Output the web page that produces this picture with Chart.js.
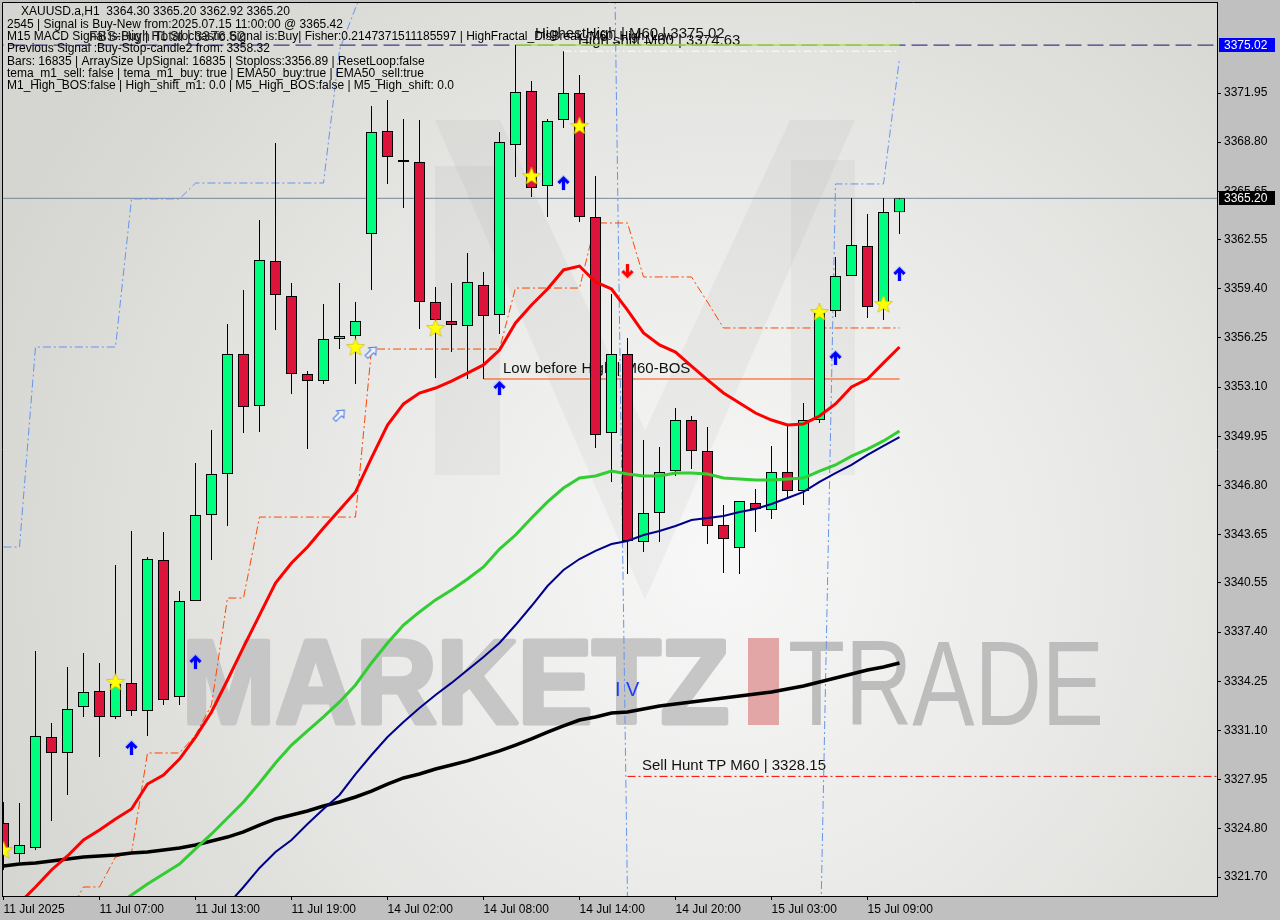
<!DOCTYPE html>
<html>
<head>
<meta charset="utf-8">
<script src="https://cdn.jsdelivr.net/npm/chart.js@4.4.1/dist/chart.umd.min.js"></script>
<style>
  html, body { margin: 0; padding: 0; background: #c0c0c0; }
  canvas { display: block; }
</style>
</head>
<body>
<canvas id="chart" width="1280" height="920"></canvas>
<script>
// XAUUSD.a H1, 11 Jul 2025 01:00 .. 15 Jul 2025 11:00 (57 candles, index 0..56)
const opens = [
  3325.16, 3323.18, 3323.56, 3330.67, 3329.65, 3332.60, 3333.62, 3331.96, 3334.14, 3332.34,
  3342.02, 3333.24, 3339.39, 3344.90, 3347.53, 3355.22, 3351.89, 3361.18, 3358.94, 3353.94,
  3353.49, 3356.18, 3356.38, 3362.91, 3369.51, 3367.66, 3367.53, 3358.55, 3357.34, 3357.02,
  3359.64, 3357.72, 3368.62, 3372.08, 3365.99, 3370.22, 3371.95, 3364.00, 3350.16, 3355.22,
  3343.17, 3345.03, 3347.72, 3350.99, 3349.00, 3344.26, 3342.79, 3345.67, 3345.22, 3347.66,
  3346.44, 3350.99, 3357.98, 3360.22, 3362.14, 3358.43, 3364.30];
const highs = [
  3326.51, 3326.44, 3336.19, 3331.57, 3335.16, 3336.06, 3335.42, 3341.70, 3343.88, 3342.21,
  3343.81, 3340.03, 3348.24, 3350.35, 3357.15, 3359.32, 3363.81, 3368.75, 3359.77, 3354.13,
  3358.43, 3359.77, 3358.55, 3371.12, 3371.50, 3370.28, 3370.22, 3359.52, 3359.77, 3361.70,
  3360.48, 3369.45, 3375.02, 3372.72, 3370.28, 3374.63, 3373.10, 3366.63, 3359.07, 3356.25,
  3349.71, 3349.26, 3351.76, 3351.25, 3350.54, 3345.54, 3345.80, 3346.57, 3349.33, 3350.67,
  3352.08, 3358.36, 3361.44, 3365.22, 3364.20, 3365.22, 3365.20];
const lows = [
  3322.15, 3322.66, 3323.43, 3325.29, 3326.96, 3331.96, 3329.39, 3331.83, 3332.02, 3330.74,
  3332.73, 3332.73, 3339.39, 3342.02, 3344.20, 3350.16, 3350.22, 3356.76, 3352.66, 3349.13,
  3353.30, 3355.54, 3353.30, 3359.32, 3366.12, 3364.58, 3356.82, 3353.68, 3355.35, 3353.62,
  3353.62, 3356.50, 3366.57, 3365.28, 3364.00, 3369.71, 3363.68, 3349.20, 3347.02, 3341.12,
  3342.53, 3343.17, 3347.40, 3347.85, 3343.04, 3341.19, 3341.12, 3343.81, 3344.65, 3345.99,
  3345.54, 3350.80, 3357.59, 3360.22, 3357.53, 3357.40, 3362.92];
const closes = [
  3323.56, 3323.75, 3330.74, 3329.65, 3332.47, 3333.56, 3331.96, 3334.07, 3332.34, 3342.08,
  3333.05, 3339.39, 3344.90, 3347.53, 3355.22, 3351.82, 3361.25, 3359.00, 3353.94, 3353.49,
  3356.18, 3356.38, 3357.34, 3369.45, 3367.85, 3367.53, 3358.55, 3357.40, 3357.08, 3359.84,
  3357.66, 3368.81, 3372.01, 3365.86, 3370.16, 3371.95, 3364.00, 3350.03, 3355.22, 3343.24,
  3345.03, 3347.66, 3350.99, 3349.00, 3344.20, 3343.36, 3345.80, 3345.29, 3347.66, 3346.44,
  3350.99, 3357.85, 3360.22, 3362.21, 3358.23, 3364.32, 3365.20];

// moving averages
const redMA = [
  3319.07, 3320.03, 3321.06, 3322.15, 3323.05, 3324.07, 3324.71, 3325.42, 3326.06, 3327.66,
  3328.24, 3329.26, 3330.67, 3332.28, 3334.33, 3336.44, 3338.49, 3340.54, 3341.83, 3342.85,
  3344.07, 3345.22, 3346.38, 3348.56, 3350.67, 3352.02, 3352.72, 3353.04, 3353.49, 3354.00,
  3354.52, 3355.48, 3357.21, 3358.36, 3359.39, 3360.61, 3360.86, 3359.84, 3359.39, 3358.04,
  3356.57, 3355.80, 3355.35, 3354.45, 3353.56, 3352.72, 3352.08, 3351.44, 3350.99, 3350.67,
  3350.74, 3351.25, 3352.02, 3353.11, 3353.62, 3354.65, 3355.67];
const greenMA = [null, null, null, null, null, null, null,
  3319.84, 3320.55, 3321.25, 3321.89, 3322.53, 3323.50, 3324.46, 3325.48, 3326.51, 3327.73,
  3329.01, 3330.16, 3331.06, 3331.96, 3332.92, 3334.01, 3335.42, 3336.70, 3337.85, 3338.69,
  3339.46, 3340.10, 3340.80, 3341.57, 3342.72, 3343.62, 3344.71, 3345.74, 3346.63, 3347.27,
  3347.40, 3347.72, 3347.53, 3347.40, 3347.40, 3347.59, 3347.59, 3347.53, 3347.27, 3347.21,
  3347.15, 3347.15, 3347.21, 3347.27, 3347.72, 3348.11, 3348.68, 3349.13, 3349.65, 3350.29];
const navyMA = [null, null, null, null, null, null, null, null, null, null, null, null, null, null,
  3319.91, 3321.06, 3322.28, 3323.30, 3324.07, 3325.10, 3326.06, 3326.96, 3328.30, 3329.52,
  3330.67, 3331.64, 3332.53, 3333.37, 3334.14, 3334.97, 3335.80, 3336.70, 3337.85, 3339.07,
  3340.35, 3341.38, 3342.08, 3342.60, 3343.04, 3343.24, 3343.62, 3343.88, 3344.20, 3344.58,
  3344.71, 3344.84, 3345.10, 3345.29, 3345.61, 3345.99, 3346.38, 3347.02, 3347.59, 3348.11,
  3348.75, 3349.33, 3349.90];
const blackMA = [
  3322.41, 3322.53, 3322.60, 3322.73, 3322.85, 3322.98, 3323.05, 3323.11, 3323.24, 3323.30,
  3323.43, 3323.56, 3323.75, 3324.01, 3324.26, 3324.59, 3325.03, 3325.42, 3325.67, 3325.93,
  3326.25, 3326.51, 3326.83, 3327.21, 3327.66, 3328.05, 3328.30, 3328.62, 3328.88, 3329.14,
  3329.46, 3329.78, 3330.16, 3330.55, 3330.99, 3331.38, 3331.76, 3331.96, 3332.21, 3332.28,
  3332.47, 3332.66, 3332.79, 3332.92, 3333.05, 3333.17, 3333.30, 3333.43, 3333.56, 3333.75,
  3333.94, 3334.20, 3334.46, 3334.71, 3334.97, 3335.16, 3335.42];

// stepped trailing lines
const orangeStop = [null, null, null, null,
  3319.20, 3321.06, 3321.06, 3322.98, 3323.24, 3329.65, 3329.65, 3329.65, 3330.80, 3332.73,
  3339.58, 3339.58, 3344.77, 3344.77, 3344.77, 3344.77, 3344.77, 3344.77, 3344.77,
  3355.54, 3355.54, 3355.54, 3355.54, 3355.54, 3355.54, 3355.54, 3355.54, 3355.54,
  3359.45, 3359.45, 3359.45, 3359.45, 3359.45, 3363.62, 3363.62, 3363.62,
  3360.16, 3360.16, 3360.16, 3360.16, 3358.55,
  3356.89, 3356.89, 3356.89, 3356.89, 3356.89, 3356.89, 3356.89, 3356.89, 3356.89, 3356.89, 3356.89, 3356.89];
const blueShift = [3342.85, 3342.85,
  3355.67, 3355.67, 3355.67, 3355.67, 3355.67, 3355.67,
  3365.16, 3365.16, 3365.16, 3365.16,
  3366.18, 3366.18, 3366.18, 3366.18, 3366.18, 3366.18, 3366.18, 3366.18, 3366.18,
  3374.71, 3377.40, 3379.83,
  null, null, null, null, null, null, null, null, null, null, null, null, null, null,
  3394.58, 3320.23,
  null, null, null, null, null, null, null, null, null, null, null,
  3314.78, 3366.12, 3366.12, 3366.12, 3366.12, 3374.19];

// signal markers
const starIdx = [0, 7, 22, 27, 33, 36, 51, 55];
const starPrice = [3323.43, 3334.20, 3355.67, 3356.89, 3366.63, 3369.84, 3357.91, 3358.43];
const upIdx = [8, 12, 31, 35, 52, 56];
const upPrice = [3329.97, 3335.48, 3353.04, 3366.18, 3354.97, 3360.35];
const downIdx = [39];
const downPrice = [3360.54];
const hollowIdx = [21, 23];
const hollowPrice = [3351.31, 3355.35];

// levels
const highestHigh = 3375.02;
const highShift = 3374.63;
const lowBeforeHigh = 3353.62;
const sellHuntTP = 3328.15;
const bidPrice = 3365.20;

// axes
const xTickIdx = [0, 6, 12, 18, 24, 30, 36, 42, 48, 54];
const xTickLabels = ['11 Jul 2025', '11 Jul 07:00', '11 Jul 13:00', '11 Jul 19:00', '14 Jul 02:00',
  '14 Jul 08:00', '14 Jul 14:00', '14 Jul 20:00', '15 Jul 03:00', '15 Jul 09:00'];
const yTickLabels = ['3321.70', '3324.80', '3327.95', '3331.10', '3334.25', '3337.40', '3340.55',
  '3343.65', '3346.80', '3349.95', '3353.10', '3356.25', '3359.40', '3362.55', '3365.65',
  '3368.80', '3371.95'];
const yTickValues = yTickLabels.map(Number);
const xMin = -0.09375, xMax = 75.84375;
const yMin = 3320.483, yMax = 3377.783;

const infoLines = [
  'XAUUSD.a,H1  3364.30 3365.20 3362.92 3365.20',
  '2545 | Signal is Buy-New from:2025.07.15 11:00:00 @ 3365.42',
  'M15 MACD Signal is:Buy | H1 Stochastic Signal is:Buy| Fisher:0.2147371511185597 | HighFractal_DisBreak_M60_High_Low',
  'Previous Signal :Buy-Stop-candle2 from: 3358.32',
  'Bars: 16835 | ArraySize UpSignal: 16835 | Stoploss:3356.89 | ResetLoop:false',
  'tema_m1_sell: false | tema_m1_buy: true | EMA50_buy:true | EMA50_sell:true',
  'M1_High_BOS:false | High_shift_m1: 0.0 | M5_High_BOS:false | M5_High_shift: 0.0'
];

const BULL = '#00ff7f';
const BEAR = '#dc143c';
const FONT = '"Liberation Sans", Arial, sans-serif';

function series(arr) {
  return arr.map((v, k) => ({ x: k, y: v }));
}
function marks(idx, prices) {
  return idx.map((k, i) => ({ x: k, y: prices[i] }));
}
function level(from, to, price) {
  return [{ x: from, y: price }, { x: to, y: price }];
}

// point images
function makeStar() {
  const c = document.createElement('canvas');
  c.width = 20; c.height = 20;
  const g = c.getContext('2d');
  g.beginPath();
  for (let i = 0; i < 10; i++) {
    const r = i % 2 ? 4 : 9.5;
    const a = -Math.PI / 2 + i * Math.PI / 5;
    g.lineTo(10 + r * Math.cos(a), 10.5 + r * Math.sin(a));
  }
  g.closePath();
  g.fillStyle = '#ffff00';
  g.fill();
  g.strokeStyle = 'rgba(200,170,0,0.7)';
  g.lineWidth = 0.8;
  g.stroke();
  return c;
}
function makeArrow(color, halo, down) {
  const c = document.createElement('canvas');
  c.width = 13; c.height = 16;
  const g = c.getContext('2d');
  if (down) { g.translate(0, 16); g.scale(1, -1); }
  [[5, halo], [3, color]].forEach(([w, col]) => {
    g.strokeStyle = col;
    g.lineWidth = w;
    g.lineJoin = 'miter';
    g.beginPath(); g.moveTo(6.5, 15); g.lineTo(6.5, 3.5); g.stroke();
    g.beginPath(); g.moveTo(1.5, 8); g.lineTo(6.5, 3); g.lineTo(11.5, 8); g.stroke();
  });
  return c;
}
function makeHollow() {
  const c = document.createElement('canvas');
  c.width = 16; c.height = 16;
  const g = c.getContext('2d');
  g.translate(8, 8);
  g.rotate(Math.PI / 4);
  g.beginPath();
  g.moveTo(0, -7); g.lineTo(5, -1); g.lineTo(2, -1); g.lineTo(2, 7);
  g.lineTo(-2, 7); g.lineTo(-2, -1); g.lineTo(-5, -1); g.closePath();
  g.fillStyle = 'rgba(240,244,255,0.9)';
  g.fill();
  g.strokeStyle = '#4a78e0';
  g.lineWidth = 1;
  g.stroke();
  return c;
}

const starImg = makeStar();
const upImg = makeArrow('#0000ff', 'rgba(120,150,255,0.45)', false);
const downImg = makeArrow('#ff0000', 'rgba(255,140,140,0.45)', true);
const hollowImg = makeHollow();

function fitText(ctx, txt, font, x0, x1, baseline, color, stroke) {
  ctx.font = font;
  const w = ctx.measureText(txt).width;
  ctx.save();
  ctx.translate(x0, baseline);
  ctx.scale((x1 - x0) / w, 1);
  ctx.fillStyle = color;
  ctx.textAlign = 'left';
  ctx.textBaseline = 'alphabetic';
  if (stroke) {
    ctx.strokeStyle = color;
    ctx.lineWidth = stroke;
    ctx.lineJoin = 'round';
    ctx.strokeText(txt, 0, 0);
  }
  ctx.fillText(txt, 0, 0);
  ctx.restore();
}

const mt4Plugin = {
  id: 'mt4',
  beforeDraw(chart) {
    const { ctx, chartArea: a } = chart;
    ctx.save();
    ctx.fillStyle = '#c0c0c0';
    ctx.fillRect(0, 0, chart.width, chart.height);
    const g = ctx.createRadialGradient(720, 560, 20, 720, 560, 780);
    g.addColorStop(0, '#f7f7f7');
    g.addColorStop(0.5, '#e8e8e6');
    g.addColorStop(1, '#d5d5d1');
    ctx.fillStyle = g;
    ctx.fillRect(a.left, a.top, a.right - a.left, a.bottom - a.top);
    ctx.beginPath();
    ctx.rect(a.left, a.top, a.right - a.left, a.bottom - a.top);
    ctx.clip();

    // faint "M" logo
    ctx.fillStyle = 'rgba(0,0,0,0.035)';
    ctx.fillRect(435, 166, 65, 309);
    ctx.fillRect(791, 160, 64, 315);
    ctx.beginPath();
    ctx.moveTo(435, 120); ctx.lineTo(500, 120); ctx.lineTo(645, 430);
    ctx.lineTo(790, 120); ctx.lineTo(855, 120); ctx.lineTo(645, 600);
    ctx.closePath();
    ctx.fill();

    // MARKETZ | TRADE watermark
    fitText(ctx, 'MARKETZ', 'bold 118px ' + FONT, 182, 729, 723, '#c6c6c6', 5);
    ctx.fillStyle = '#e2a6a6';
    ctx.fillRect(748, 638, 31, 87);
    fitText(ctx, 'TRADE', '120px ' + FONT, 788, 1104, 725, '#bdbdbd');
    ctx.restore();
  },
  beforeDatasetsDraw(chart) {
    const { ctx } = chart;
    ctx.save();
    ctx.textAlign = 'left';
    ctx.textBaseline = 'alphabetic';
    ctx.fillStyle = '#111';
    ctx.font = '15px ' + FONT;
    ctx.fillText('Low before High | M60-BOS', 503, 373);
    ctx.fillText('Sell Hunt TP M60 | 3328.15', 642, 770);
    ctx.fillText('HighestHigh | M60 | 3375.02', 535, 38);
    ctx.fillText('High shift M60 | 3374.63', 578, 45);
    ctx.fillStyle = '#1e3cff';
    ctx.font = '20px ' + FONT;
    ctx.fillText('I V', 615, 696);
    ctx.restore();
  },
  afterDraw(chart) {
    const { ctx, chartArea: a, scales: { y } } = chart;
    ctx.save();
    // frame
    ctx.strokeStyle = '#000';
    ctx.lineWidth = 1;
    ctx.beginPath();
    ctx.moveTo(a.left + 0.5, a.bottom); ctx.lineTo(a.left + 0.5, a.top + 0.5); ctx.lineTo(a.right, a.top + 0.5);
    ctx.stroke();

    // info comment block
    ctx.fillStyle = '#000';
    ctx.font = '12px ' + FONT;
    ctx.textBaseline = 'middle';
    ctx.textAlign = 'left';
    infoLines.forEach((t, i) => ctx.fillText(t, i === 0 ? 21 : 7, 12 + i * 12.3));
    ctx.font = '14px ' + FONT;
    ctx.fillStyle = '#222';
    ctx.fillText('FBS-High Total | 3376.62', 89, 37);

    // price boxes on the axis
    const box = (price, bg) => {
      const py = Math.round(y.getPixelForValue(price));
      ctx.fillStyle = bg;
      ctx.fillRect(1219, py - 7, 56, 14);
      ctx.fillStyle = '#fff';
      ctx.font = '12px ' + FONT;
      ctx.textBaseline = 'middle';
      ctx.fillText(price.toFixed(2), 1224, py + 0.5);
    };
    box(highestHigh, '#0000ff');
    box(bidPrice, '#000000');
    ctx.restore();
  }
};

const lineBase = { type: 'line', pointRadius: 0, tension: 0, clip: 0, fill: false };
const dashDot = [8, 3, 2, 3];

const datasets = [
  // markers
  { type: 'line', data: marks(starIdx, starPrice), showLine: false, pointStyle: starImg, pointRadius: 6, order: 0, clip: 0 },
  { type: 'line', data: marks(upIdx, upPrice), showLine: false, pointStyle: upImg, pointRadius: 6, order: 0, clip: 0 },
  { type: 'line', data: marks(downIdx, downPrice), showLine: false, pointStyle: downImg, pointRadius: 6, order: 0, clip: 0 },
  { type: 'line', data: marks(hollowIdx, hollowPrice), showLine: false, pointStyle: hollowImg, pointRadius: 6, order: 0, clip: 0 },
  // moving averages
  { ...lineBase, data: series(redMA), borderColor: '#ff0000', borderWidth: 3, order: 1 },
  { ...lineBase, data: series(greenMA), borderColor: '#32cd32', borderWidth: 3, order: 2 },
  { ...lineBase, data: series(navyMA), borderColor: '#00008b', borderWidth: 2, order: 3 },
  { ...lineBase, data: series(blackMA), borderColor: '#000000', borderWidth: 3.5, order: 4 },
  // candle bodies and wicks
  {
    type: 'bar', order: 5, clip: 0, grouped: false, maxBarThickness: 11,
    data: opens.map((o, k) => ({ x: k, y: [o, closes[k]] })),
    backgroundColor: closes.map((c, k) => (c >= opens[k] ? BULL : BEAR)),
    borderColor: '#000', borderWidth: 1, borderSkipped: false, inflateAmount: 0
  },
  {
    type: 'bar', order: 6, clip: 0, grouped: false, maxBarThickness: 1,
    data: lows.map((l, k) => ({ x: k, y: [l, highs[k]] })),
    backgroundColor: '#000', borderWidth: 0, inflateAmount: 0
  },
  // stepped trailing lines
  { ...lineBase, data: series(orangeStop), borderColor: '#ff4500', borderWidth: 1, borderDash: dashDot, order: 7 },
  { ...lineBase, data: series(blueShift), borderColor: '#6495ed', borderWidth: 1, borderDash: dashDot, order: 8 },
  // levels
  { ...lineBase, data: level(30, 56, lowBeforeHigh), borderColor: '#ff4500', borderWidth: 1, order: 9 },
  { ...lineBase, data: level(39, 80, sellHuntTP), borderColor: '#ff0000', borderWidth: 1, borderDash: dashDot, order: 9 },
  { ...lineBase, data: level(35, 56, highShift), borderColor: '#ffffff', borderWidth: 1, borderDash: dashDot, order: 9 },
  { ...lineBase, data: level(32, 56, highestHigh), borderColor: '#a6e64a', borderWidth: 1.5, order: 9 },
  { ...lineBase, data: level(-1, 80, highestHigh), borderColor: '#14146e', borderWidth: 1, borderDash: [16, 6], order: 10 },
  { ...lineBase, data: level(-1, 80, bidPrice), borderColor: '#778899', borderWidth: 1, order: 10 }
];

new Chart(document.getElementById('chart'), {
  type: 'bar',
  data: { datasets },
  options: {
    responsive: false,
    animation: false,
    events: [],
    devicePixelRatio: 1,
    layout: { autoPadding: false, padding: { left: 2, top: 2, right: 0, bottom: 0 } },
    plugins: { legend: { display: false }, tooltip: { enabled: false } },
    scales: {
      x: {
        type: 'linear', position: 'bottom', min: xMin, max: xMax, offset: false, bounds: 'data',
        grid: { display: true, drawOnChartArea: false, drawTicks: true, tickLength: 4, color: '#000', offset: false },
        border: { display: true, color: '#000', width: 1 },
        ticks: {
          autoSkip: false, maxRotation: 0, minRotation: 0, align: 'start', padding: 2, color: '#000',
          font: { family: 'Liberation Sans', size: 12 },
          callback: (v) => { const i = xTickIdx.indexOf(v); return i >= 0 ? xTickLabels[i] : ''; }
        },
        afterBuildTicks: (s) => { s.ticks = xTickIdx.map((v) => ({ value: v })); },
        afterFit: (s) => { s.height = 24; s.paddingLeft = 0; s.paddingRight = 0; }
      },
      y: {
        type: 'linear', position: 'right', min: yMin, max: yMax, bounds: 'data',
        grid: { display: true, drawOnChartArea: false, drawTicks: true, tickLength: 4, color: '#000' },
        border: { display: true, color: '#000', width: 1 },
        ticks: {
          padding: 3, color: '#000',
          font: { family: 'Liberation Sans', size: 12 },
          callback: (v) => { const i = yTickValues.indexOf(v); return i >= 0 ? yTickLabels[i] : ''; }
        },
        afterBuildTicks: (s) => { s.ticks = yTickValues.map((v) => ({ value: v })); },
        afterFit: (s) => { s.width = 63; s.paddingTop = 0; s.paddingBottom = 0; }
      }
    }
  },
  plugins: [mt4Plugin]
});
</script>
</body>
</html>
